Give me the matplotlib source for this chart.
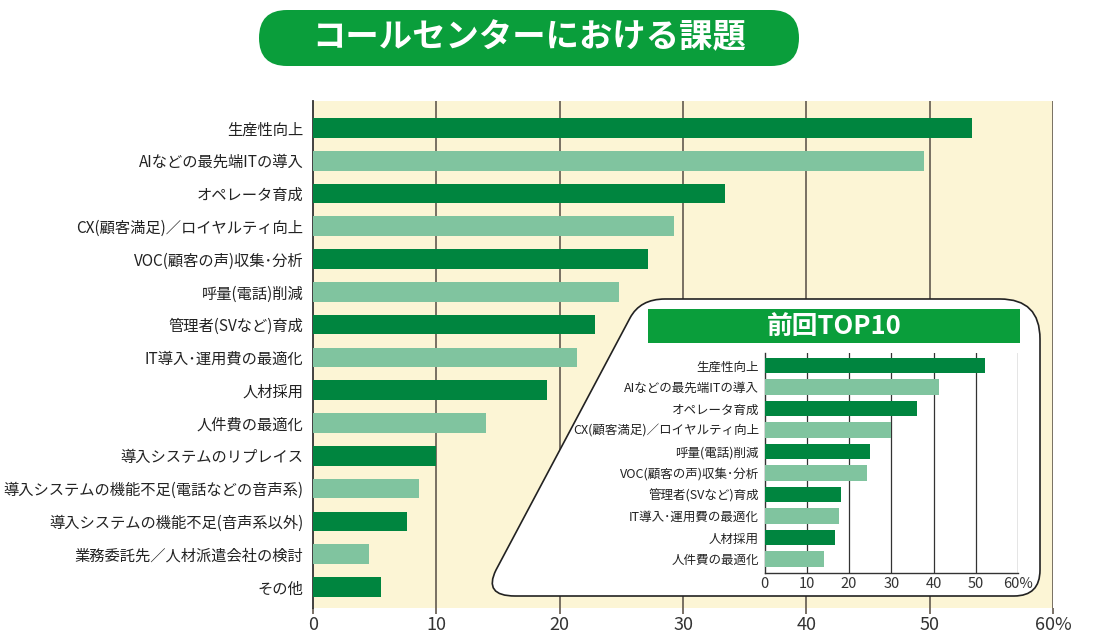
import matplotlib
matplotlib.use("Agg")
import matplotlib.pyplot as plt
from matplotlib.patches import FancyBboxPatch, PathPatch, Rectangle
from matplotlib.path import Path
import numpy as np

plt.rcParams["font.family"] = ["Noto Sans CJK JP", "DejaVu Sans"]

# main chart: current survey
categories = [
    "生産性向上",
    "AIなどの最先端ITの導入",
    "オペレータ育成",
    "CX(顧客満足)／ロイヤルティ向上",
    "VOC(顧客の声)収集･分析",
    "呼量(電話)削減",
    "管理者(SVなど)育成",
    "IT導入･運用費の最適化",
    "人材採用",
    "人件費の最適化",
    "導入システムのリプレイス",
    "導入システムの機能不足(電話などの音声系)",
    "導入システムの機能不足(音声系以外)",
    "業務委託先／人材派遣会社の検討",
    "その他",
]
values = [53.4, 49.5, 33.4, 29.3, 27.2, 24.8, 22.9, 21.4, 19.0, 14.0, 10.0, 8.6, 7.6, 4.5, 5.5]

# inset: previous top 10
prev_categories = [
    "生産性向上",
    "AIなどの最先端ITの導入",
    "オペレータ育成",
    "CX(顧客満足)／ロイヤルティ向上",
    "呼量(電話)削減",
    "VOC(顧客の声)収集･分析",
    "管理者(SVなど)育成",
    "IT導入･運用費の最適化",
    "人材採用",
    "人件費の最適化",
]
prev_values = [52.1, 41.3, 36.1, 30.0, 24.9, 24.3, 18.1, 17.6, 16.7, 14.0]

x_ticks = [0, 10, 20, 30, 40, 50, 60]
x_ticklabels = ["0", "10", "20", "30", "40", "50", "60%"]

DARK = "#00853F"
LIGHT = "#80C49F"
GREEN = "#0A9E3B"
W, H = 1096, 639


def px_rect(left, top, right, bottom):
    return [left / W, 1 - bottom / H, (right - left) / W, (bottom - top) / H]


def bar_colors(n):
    return [DARK if i % 2 == 0 else LIGHT for i in range(n)]


fig = plt.figure(figsize=(W / 100, H / 100), dpi=100)
fig.patch.set_facecolor("white")

# main axes
ax = fig.add_axes(px_rect(313, 101, 1053, 608), zorder=1)
ax.set_facecolor("#FCF5D5")
y = np.arange(len(categories))
ax.barh(y, values, height=0.6, color=bar_colors(len(values)), zorder=3)
ax.set_xlim(0, 60)
ax.set_ylim(14.64, -0.82)
ax.set_yticks(y)
ax.set_yticklabels(categories, fontsize=11, color="#222222")
ax.tick_params(axis="y", length=0, pad=7)
ax.set_xticks(x_ticks)
ax.set_xticklabels(x_ticklabels, fontsize=13, color="#333333")
ax.tick_params(axis="x", length=4, color="#6E665A", width=1.3, pad=2)
for v in x_ticks[1:]:
    ax.axvline(v, color="#6E665A", linewidth=1.3, zorder=1)
for s in ["top", "right", "bottom"]:
    ax.spines[s].set_visible(False)
ax.spines["left"].set_color("#333333")
ax.spines["left"].set_linewidth(1.3)

# overlay in pixel coordinates
ov = fig.add_axes([0, 0, 1, 1], zorder=2)
ov.set_xlim(0, W)
ov.set_ylim(H, 0)
ov.axis("off")
ov.patch.set_alpha(0)

# title pill
ov.add_patch(FancyBboxPatch((259, 10), 540, 56,
                            boxstyle="round,pad=0,rounding_size=28",
                            facecolor=GREEN, edgecolor="none"))
ov.text(529, 38, "コールセンターにおける課題", color="white", fontsize=24,
        fontweight="bold", ha="center", va="center")

# inset background shape
verts = [
    (665, 299), (1000, 299),
    (1040, 299), (1040, 339),
    (1040, 570),
    (1040, 596), (1014, 596),
    (515, 596),
    (483, 596), (496, 570),
    (630, 318),
    (640, 299), (665, 299),
    (665, 299),
]
codes = [
    Path.MOVETO, Path.LINETO,
    Path.CURVE3, Path.CURVE3,
    Path.LINETO,
    Path.CURVE3, Path.CURVE3,
    Path.LINETO,
    Path.CURVE3, Path.CURVE3,
    Path.LINETO,
    Path.CURVE3, Path.CURVE3,
    Path.CLOSEPOLY,
]
ov.add_patch(PathPatch(Path(verts, codes), facecolor="white",
                       edgecolor="#222222", linewidth=1.2))
ov.add_patch(Rectangle((648, 309), 372, 34, facecolor=GREEN, edgecolor="none"))
ov.text(834, 326, "前回TOP10", color="white", fontsize=18.5,
        fontweight="bold", ha="center", va="center")

# inset axes
ax2 = fig.add_axes(px_rect(764.6, 353, 1018, 573), zorder=3)
ax2.set_facecolor("white")
y2 = np.arange(len(prev_categories))
ax2.barh(y2, prev_values, height=0.72, color=bar_colors(len(prev_values)), zorder=3)
ax2.set_xlim(0, 60)
ax2.set_ylim(9.66, -0.58)
ax2.set_yticks(y2)
ax2.set_yticklabels(prev_categories, fontsize=9, color="#222222")
ax2.tick_params(axis="y", length=0, pad=4)
ax2.set_xticks(x_ticks)
ax2.set_xticklabels(x_ticklabels, fontsize=10.5, color="#333333")
ax2.tick_params(axis="x", length=0, pad=3)
for v in x_ticks[1:]:
    ax2.axvline(v, color="#333333", linewidth=0.9, zorder=1)
for s in ["top", "right"]:
    ax2.spines[s].set_visible(False)
for s in ["left", "bottom"]:
    ax2.spines[s].set_color("#333333")
    ax2.spines[s].set_linewidth(1.0)

fig.savefig("out.png", dpi=100, facecolor="white")
